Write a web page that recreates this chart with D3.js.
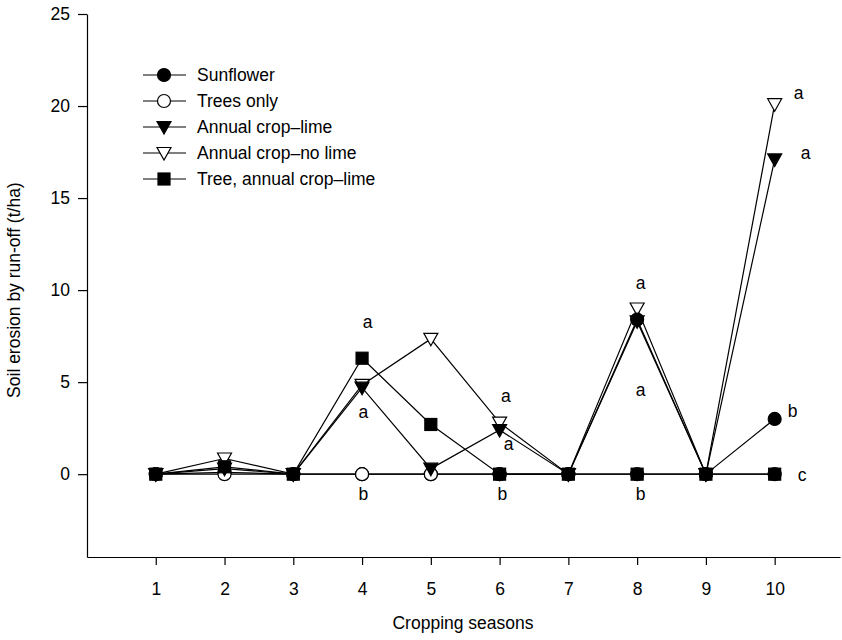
<!DOCTYPE html>
<html>
<head>
  <meta charset="UTF-8">
  <style>
    body { margin: 0; background: #fff; font-family: "Liberation Sans", Arial, sans-serif; }
    svg text { fill: #000; }
  </style>
</head>
<body>
  <svg width="842" height="640"></svg>
  <script src="https://d3js.org/d3.v7.min.js"></script>
  <script>
    const width = 842, height = 640;
    const svg = d3.select("svg");
    const fs = 17.5;

    // data
    const seasons = [1, 2, 3, 4, 5, 6, 7, 8, 9, 10];
    const sunflower = [0, 0.1, 0, 0, 0, 0, 0, 8.4, 0, 3.0];
    const treesOnly = [0, 0, 0, 0, 0, 0, 0, 0, 0, 0];
    const annualLime = [0, 0.3, 0, 4.7, 0.3, 2.4, 0, 8.3, 0, 17.1];
    const annualNoLime = [0, 0.85, 0, 4.85, 7.35, 2.8, 0, 9.0, 0, 20.1];
    const treeAnnualLime = [0, 0.4, 0, 6.3, 2.7, 0, 0, 0, 0, 0];

    const yTicks = [0, 5, 10, 15, 20, 25];

    // significance letters: [season position, value position, letter]
    const letters = [
      [4.08, 8.3, "a"], [4.02, 3.4, "a"], [4.02, -1.05, "b"],
      [6.09, 4.25, "a"], [6.13, 1.65, "a"], [6.04, -1.05, "b"],
      [8.05, 10.4, "a"], [8.05, 4.6, "a"], [8.05, -1.05, "b"],
      [10.35, 20.7, "a"], [10.45, 17.45, "a"], [10.26, 3.45, "b"], [10.4, -0.05, "c"]
    ];

    const series = [
      { name: "Sunflower", values: sunflower, shape: "circle", fill: "#000" },
      { name: "Trees only", values: treesOnly, shape: "circle", fill: "#fff" },
      { name: "Annual crop\u2013lime", values: annualLime, shape: "tri", fill: "#000" },
      { name: "Annual crop\u2013no lime", values: annualNoLime, shape: "tri", fill: "#fff" },
      { name: "Tree, annual crop\u2013lime", values: treeAnnualLime, shape: "square", fill: "#000" }
    ];
    // drawing order (which markers sit on top)
    const drawOrder = [3, 0, 1, 2, 4];

    const x = d3.scaleLinear().domain([0, 10.95]).range([87, 840]);
    const y = d3.scaleLinear().domain([-4.5, 25]).range([557, 14]);

    // axes
    const xAxis = svg.append("g")
      .attr("transform", `translate(0,${y(-4.5)})`)
      .call(d3.axisBottom(x).tickValues(seasons).tickSize(8).tickPadding(18).tickSizeOuter(0));
    const yAxis = svg.append("g")
      .attr("transform", `translate(${x(0)},0)`)
      .call(d3.axisLeft(y).tickValues(yTicks).tickSize(9).tickPadding(8).tickSizeOuter(0));
    [xAxis, yAxis].forEach(g => {
      g.selectAll("path, line").attr("stroke", "#000").attr("stroke-width", 1.2);
      g.selectAll("text").attr("font-size", fs).attr("font-family", "Liberation Sans, Arial, sans-serif");
    });

    svg.append("text")
      .attr("x", 463).attr("y", 629)
      .attr("text-anchor", "middle")
      .attr("font-size", fs)
      .text("Cropping seasons");
    svg.append("text")
      .attr("transform", `translate(20,${y(10)}) rotate(-90)`)
      .attr("text-anchor", "middle")
      .attr("font-size", fs)
      .text("Soil erosion by run-off (t/ha)");

    const line = d3.line().x((d, i) => x(seasons[i])).y(d => y(d));

    function marker(g, shape, fill, cx, cy) {
      if (shape === "circle") {
        g.append("circle").attr("cx", cx).attr("cy", cy).attr("r", 6.5)
          .attr("fill", fill).attr("stroke", "#000").attr("stroke-width", 1.2);
      } else if (shape === "square") {
        g.append("rect").attr("x", cx - 6).attr("y", cy - 6).attr("width", 12).attr("height", 12)
          .attr("fill", fill).attr("stroke", "#000").attr("stroke-width", 1.2);
      } else {
        g.append("path").attr("d", `M${cx - 7},${cy - 5.5}L${cx + 7},${cy - 5.5}L${cx},${cy + 7}Z`)
          .attr("fill", fill).attr("stroke", "#000").attr("stroke-width", 1.2);
      }
    }

    const plot = svg.append("g");
    drawOrder.forEach(k => {
      plot.append("path")
        .datum(series[k].values)
        .attr("d", line)
        .attr("fill", "none")
        .attr("stroke", "#000")
        .attr("stroke-width", 1.2);
    });
    drawOrder.forEach(k => {
      const s = series[k];
      s.values.forEach((v, i) => marker(plot, s.shape, s.fill, x(seasons[i]), y(v)));
    });

    // letters
    svg.append("g").selectAll("text")
      .data(letters)
      .enter()
      .append("text")
      .attr("x", d => x(d[0]))
      .attr("y", d => y(d[1]))
      .attr("dy", "0.35em")
      .attr("text-anchor", "middle")
      .attr("font-size", fs)
      .text(d => d[2]);

    // legend
    const legend = svg.append("g").attr("transform", "translate(143,75)");
    series.forEach((s, i) => {
      const g = legend.append("g").attr("transform", `translate(0,${i * 26})`);
      g.append("line").attr("x1", 0).attr("x2", 43).attr("y1", 0).attr("y2", 0)
        .attr("stroke", "#000").attr("stroke-width", 1.2);
      marker(g, s.shape, s.fill, 21, 0);
      g.append("text").attr("x", 54).attr("y", 0).attr("dy", "0.35em")
        .attr("font-size", fs).text(s.name);
    });
  </script>
</body>
</html>
